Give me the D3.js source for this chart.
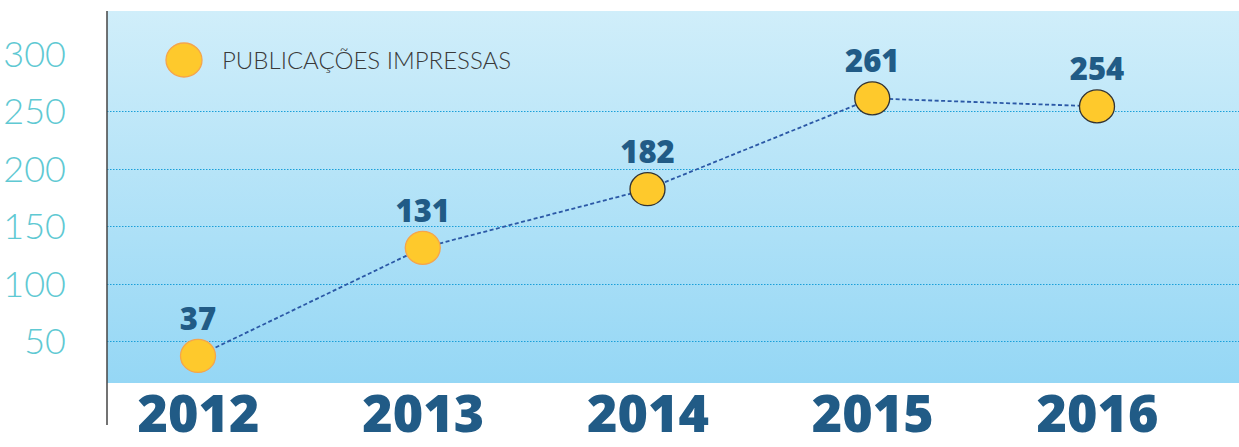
<!DOCTYPE html>
<html>
<head>
<meta charset="utf-8">
<script src="https://cdn.jsdelivr.net/npm/d3@7"></script>
<style>
  body { margin: 0; background: #fff; }
  svg { display: block; font-family: "Open Sans", Lato, sans-serif; }
</style>
</head>
<body>
<svg id="chart" width="1239" height="447"></svg>
<script>
var years = ["2012", "2013", "2014", "2015", "2016"];
var values = [37, 131, 182, 261, 254];
var yTicks = [50, 100, 150, 200, 250, 300];
var gridTicks = [50, 100, 150, 200, 250];
var seriesName = "PUBLICAÇÕES IMPRESSAS";

var svg = d3.select("#chart");
var plot = { left: 107, right: 1239, top: 11, bottom: 383 };

var x = d3.scalePoint()
  .domain(years)
  .range([198, 1097]);

var y = d3.scaleLinear()
  .domain([0, 300])
  .range([398.5, 53.5]);

// background
var defs = svg.append("defs");
var grad = defs.append("linearGradient")
  .attr("id", "bg")
  .attr("x1", 0).attr("y1", 0).attr("x2", 0).attr("y2", 1);
grad.append("stop").attr("offset", "0%").attr("stop-color", "#d0eefa");
grad.append("stop").attr("offset", "100%").attr("stop-color", "#95d7f5");

svg.append("rect")
  .attr("x", plot.left)
  .attr("y", plot.top)
  .attr("width", plot.right - plot.left)
  .attr("height", plot.bottom - plot.top)
  .attr("fill", "url(#bg)");

// grid lines
svg.append("g")
  .selectAll("line")
  .data(gridTicks)
  .join("line")
  .attr("x1", plot.left)
  .attr("x2", plot.right)
  .attr("y1", function(d) { return Math.round(y(d)) + 0.5; })
  .attr("y2", function(d) { return Math.round(y(d)) + 0.5; })
  .attr("stroke", "#1a9fd9")
  .attr("stroke-width", 1.2)
  .attr("stroke-dasharray", "1.5,1.5");

// y axis labels
var yAxis = d3.axisLeft(y)
  .tickValues(yTicks)
  .tickSize(0)
  .tickPadding(0);

var ya = svg.append("g")
  .attr("transform", "translate(66,0)")
  .call(yAxis);
ya.select(".domain").remove();
ya.selectAll("text")
  .attr("fill", "#5fc9d3")
  .attr("font-family", "Lato, sans-serif")
  .attr("font-size", 36)
  .attr("font-weight", 300)
  .attr("dy", "0.36em");

// vertical axis line
svg.append("line")
  .attr("x1", plot.left).attr("x2", plot.left)
  .attr("y1", plot.top).attr("y2", 425)
  .attr("stroke", "#444")
  .attr("stroke-width", 1.5);

// x axis labels
var xAxis = d3.axisBottom(x).tickSize(0).tickPadding(0);
var xa = svg.append("g")
  .attr("transform", "translate(0,432)")
  .call(xAxis);
xa.select(".domain").remove();
xa.selectAll("text")
  .attr("dy", 0)
  .attr("fill", "#215b86")
  .attr("font-family", "'Open Sans', sans-serif")
  .attr("font-size", 52)
  .attr("font-weight", 800);

// connecting line
var line = d3.line()
  .x(function(d, i) { return x(years[i]); })
  .y(function(d) { return y(d); });

svg.append("path")
  .datum(values)
  .attr("d", line)
  .attr("fill", "none")
  .attr("stroke", "#2b58a6")
  .attr("stroke-width", 1.8)
  .attr("stroke-dasharray", "4,2.5");

// points
svg.append("g")
  .selectAll("ellipse")
  .data(values)
  .join("ellipse")
  .attr("cx", function(d, i) { return x(years[i]); })
  .attr("cy", function(d) { return y(d); })
  .attr("rx", 17.5)
  .attr("ry", 16.5)
  .attr("fill", "#fec92c")
  .attr("stroke", function(d, i) { return i < 2 ? "#f5a54c" : "#333"; })
  .attr("stroke-width", 1.3);

// value labels
svg.append("g")
  .selectAll("text")
  .data(values)
  .join("text")
  .attr("x", function(d, i) { return x(years[i]); })
  .attr("y", function(d) { return y(d) - 26; })
  .attr("text-anchor", "middle")
  .attr("fill", "#215b86")
  .attr("font-family", "'Open Sans', sans-serif")
  .attr("font-size", 31)
  .attr("font-weight", 800)
  .text(function(d) { return d; });

// legend
svg.append("ellipse")
  .attr("cx", 184).attr("cy", 60)
  .attr("rx", 18).attr("ry", 17)
  .attr("fill", "#fec92c")
  .attr("stroke", "#f5a54c")
  .attr("stroke-width", 1.3);

svg.append("text")
  .attr("x", 222)
  .attr("y", 69)
  .attr("fill", "#3a3a3a")
  .attr("font-family", "Lato, sans-serif")
  .attr("font-size", 24)
  .attr("font-weight", 300)
  .text(seriesName);
</script>
</body>
</html>
